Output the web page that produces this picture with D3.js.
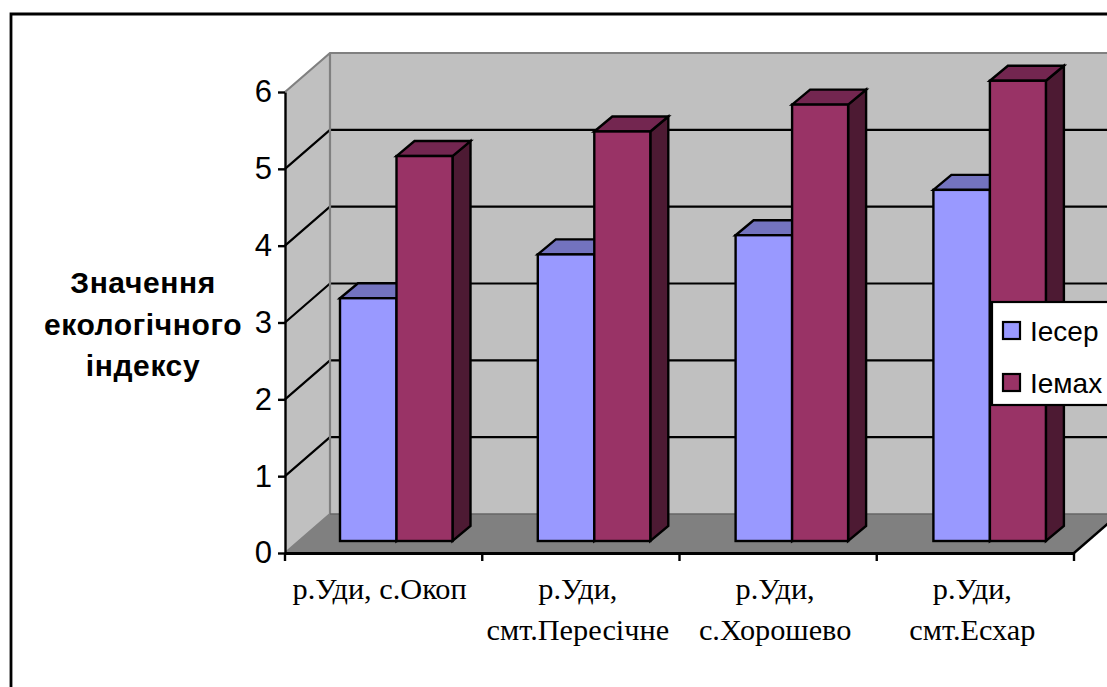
<!DOCTYPE html>
<html><head><meta charset="utf-8">
<script src="https://cdn.jsdelivr.net/npm/d3@7"></script>
<style>html,body{margin:0;padding:0;background:#fff;overflow:hidden}svg{display:block}</style>
</head><body>
<div id="c"></div>
<script>
const categories = ["р.Уди, с.Окоп", "р.Уди, смт.Пересічне", "р.Уди, с.Хорошево", "р.Уди, смт.Есхар"];
const categoryLines = [["р.Уди, с.Окоп"], ["р.Уди,", "смт.Пересічне"], ["р.Уди,", "с.Хорошево"], ["р.Уди,", "смт.Есхар"]];
const seriesNames = ["Ieсер", "Ieмах"];
const ieSer = [3.16, 3.73, 3.98, 4.57];
const ieMax = [5.01, 5.33, 5.68, 5.99];
const yTicks = [0, 1, 2, 3, 4, 5, 6];
const yTitle = ["Значення", "екологічного", "індексу"];
const colors = ["#9999FF", "#993366"];
const topColors = ["#7373BF", "#732650"];
const sideColors = ["#4D3A73", "#4D1A33"];

const W = 1107, H = 687;
const depthX = 45, depthY = 39;
const barDepthX = 18, barDepthY = 15, baseLift = 12;
const svg = d3.select("#c").append("svg").attr("width", W).attr("height", H);

const y = d3.scaleLinear().domain([0, 6]).range([553, 92]);
const x = d3.scaleBand().domain(categories).range([285, 1074]);
const xBars = d3.scaleBand().domain(categories).range([340, 340 + 4 * 197.8]);
const barW = 56.5;

// outer frame
svg.append("path").attr("d", `M11,${H + 5}V14H${W + 5}`).attr("fill", "none").attr("stroke", "#000").attr("stroke-width", 2.8);

// walls and floor
const x0 = x.range()[0], x1 = x.range()[1], yB = y(0), yT = y(6);
svg.append("path").attr("d", `M${x0 + depthX},${yT - depthY}H${W + 20}V${yB - depthY}H${x0 + depthX}Z`).attr("fill", "#C0C0C0");
svg.append("path").attr("d", `M${x0},${yT}L${x0 + depthX},${yT - depthY}V${yB - depthY}L${x0},${yB}Z`).attr("fill", "#C0C0C0");
svg.append("path").attr("d", `M${x0},${yB}L${x0 + depthX},${yB - depthY}H${x1 + depthX}L${x1},${yB}Z`).attr("fill", "#808080");

// gridlines
svg.append("g").selectAll("path").data(yTicks.filter(d => d > 0 && d < 6)).join("path")
  .attr("d", d => `M${x0},${y(d)}L${x0 + depthX},${y(d) - depthY}H${W + 20}`)
  .attr("fill", "none").attr("stroke", "#000").attr("stroke-width", 2.2);

// wall edges
svg.append("path").attr("d", `M${x0},${yT}L${x0 + depthX},${yT - depthY}H${W + 20}M${x0 + depthX},${yT - depthY}V${yB - depthY}L${x0},${yB}`)
  .attr("fill", "none").attr("stroke", "#808080").attr("stroke-width", 2.2);
svg.append("path").attr("d", `M${x0 + depthX},${yB - depthY}H${W + 20}`).attr("fill", "none").attr("stroke", "#666").attr("stroke-width", 1.5);
svg.append("path").attr("d", `M${x1},${yB}L${x1 + depthX},${yB - depthY}`).attr("fill", "none").attr("stroke", "#000").attr("stroke-width", 2.4);

// bars
const series = [ieSer, ieMax];
series.forEach((vals, s) => {
  const g = svg.append("g");
  const rows = categories.map((c, i) => {
    const left = xBars(c) + s * barW;
    return { left, right: left + barW - (s ? 0.5 : 0), top: y(vals[i]) - baseLift, base: y(0) - baseLift };
  });
  const stroke = el => el.attr("stroke", "#000").attr("stroke-width", 2.4).attr("stroke-linejoin", "miter");
  g.selectAll(".side").data(rows).join("path")
    .attr("d", d => `M${d.right},${d.top}l${barDepthX},${-barDepthY}V${d.base - barDepthY}l${-barDepthX},${barDepthY}Z`)
    .attr("fill", sideColors[s]).call(stroke);
  g.selectAll(".top").data(rows).join("path")
    .attr("d", d => `M${d.left},${d.top}l${barDepthX},${-barDepthY}H${d.right + barDepthX}l${-barDepthX},${barDepthY}Z`)
    .attr("fill", topColors[s]).call(stroke);
  g.selectAll(".front").data(rows).join("rect")
    .attr("x", d => d.left).attr("y", d => d.top).attr("width", d => d.right - d.left).attr("height", d => d.base - d.top)
    .attr("fill", colors[s]).call(stroke);
});

// axes
const yAxis = svg.append("g").attr("transform", `translate(${x0},0)`)
  .call(d3.axisLeft(y).tickValues(yTicks).tickFormat(d3.format("d")).tickSize(7).tickPadding(6).tickSizeOuter(0));
yAxis.selectAll("line,path").attr("stroke", "#000").attr("stroke-width", 2.4);
yAxis.selectAll("text").attr("font-family", "Liberation Sans").attr("font-size", 31).attr("fill", "#000");

const xAxis = svg.append("g").attr("transform", `translate(0,${yB})`)
  .call(d3.axisBottom(x).tickSize(0).tickFormat(""));
xAxis.selectAll("path").attr("stroke", "#000").attr("stroke-width", 3);
xAxis.selectAll(".tick").remove();
const edges = categories.map(c => x(c)).concat([x1]);
xAxis.selectAll("line.t").data(edges).join("line").attr("class", "t")
  .attr("x1", d => d).attr("x2", d => d).attr("y1", 0).attr("y2", 8).attr("stroke", "#000").attr("stroke-width", 2.4);

// category labels
const cat = svg.append("g").attr("font-family", "Liberation Serif").attr("font-size", 30.3).attr("fill", "#000").attr("text-anchor", "middle");
categories.forEach((c, i) => {
  categoryLines[i].forEach((line, j) => {
    cat.append("text").attr("x", x(c) + x.bandwidth() / 2 - (i === 0 ? 4 : 3)).attr("y", 599 + j * 41).text(line);
  });
});

// y title
svg.append("g").attr("font-family", "Liberation Sans").attr("font-weight", "bold").attr("font-size", 30).attr("fill", "#000").attr("text-anchor", "middle")
  .selectAll("text").data(yTitle).join("text")
  .attr("x", 143).attr("y", (d, i) => 293 + i * 41.5).attr("letter-spacing", 0.6).text(d => d);

// legend
const lg = svg.append("g");
lg.append("rect").attr("x", 992).attr("y", 302).attr("width", 130).attr("height", 103).attr("fill", "#fff").attr("stroke", "#000").attr("stroke-width", 2.2);
seriesNames.forEach((n, i) => {
  lg.append("rect").attr("x", 1003).attr("y", 322 + i * 52).attr("width", 17).attr("height", 17).attr("fill", colors[i]).attr("stroke", "#000").attr("stroke-width", 2.2);
  lg.append("text").attr("x", 1030).attr("y", 341 + i * 52).attr("font-family", "Liberation Sans").attr("font-size", 28).attr("fill", "#000").text(n);
});
</script>
</body></html>
